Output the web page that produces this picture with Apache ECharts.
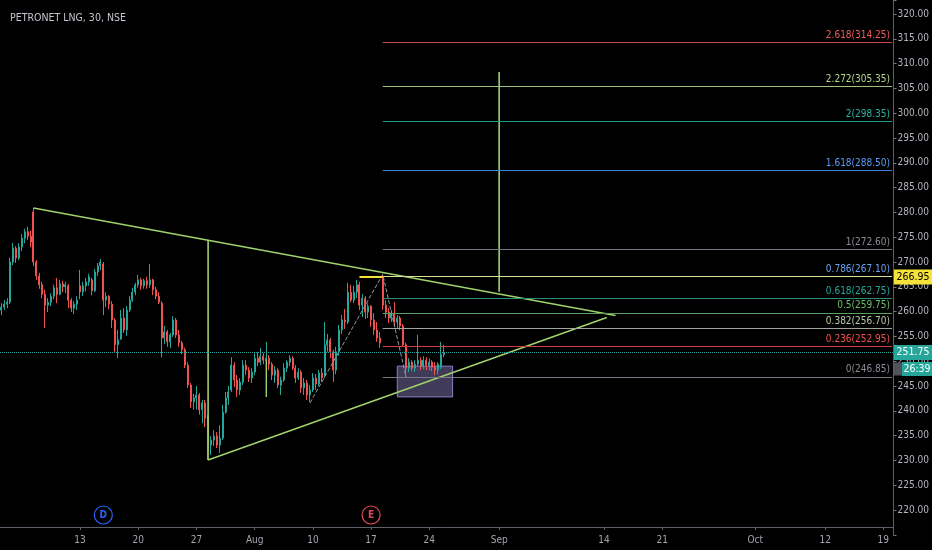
<!DOCTYPE html>
<html>
<head>
<meta charset="utf-8">
<script src="https://cdn.jsdelivr.net/npm/echarts@6/dist/echarts.min.js"></script>
<style>
  html, body { margin: 0; padding: 0; background: #000; }
  #main { width: 932px; height: 550px; }
</style>
</head>
<body>
<div id="main"></div>
<script>
var FONT = "'Liberation Sans Narrow','DejaVu Sans Condensed','Liberation Sans',sans-serif";

// 30-min bars, grouped 4 slots per trading day
var slotCount = 307;
var tickSlots = [27, 47, 67, 87, 107, 127, 147, 171, 207, 227, 259, 283, 303];
var tickLabels = ['13', '20', '27', 'Aug', '10', '17', '24', 'Sep', '14', '21', 'Oct', '12', '19'];

var opens = [
  260.3, 260.9, 261.5, 261.9, 270.0, 272.8, 270.8, 273.0, 274.8, 276.1,
  275.2, 280.1, 270.0, 267.2, 265.4, 263.5, 261.3, 261.9, 263.1, 264.8,
  263.5, 265.6, 265.0, 265.2, 262.3, 260.7, 261.5, 265.2, 264.0, 265.2,
  266.0, 266.4, 264.2, 268.0, 269.2, 269.6, 262.3, 263.1, 261.5, 258.3,
  253.3, 254.5, 258.7, 256.3, 260.3, 262.3, 263.9, 265.4, 266.4, 265.2,
  266.2, 265.4, 266.4, 264.4, 263.1, 261.7, 254.7, 255.9, 253.9, 255.3,
  258.3, 255.3, 253.7, 252.3, 249.2, 245.2, 241.8, 242.6, 243.2, 240.2,
  241.6, 238.5, 233.1, 234.1, 234.9, 233.1, 234.5, 239.7, 242.6, 244.2,
  249.2, 246.2, 244.2, 245.8, 249.2, 248.2, 246.6, 247.8, 250.6, 249.8,
  251.0, 250.2, 250.6, 249.4, 247.2, 248.2, 245.2, 246.2, 248.6, 249.8,
  250.6, 248.6, 246.6, 247.8, 244.6, 245.6, 243.2, 244.2, 246.6, 245.4,
  247.6, 247.2, 253.3, 254.3, 251.9, 248.2, 251.9, 256.3, 258.3, 257.9,
  263.9, 262.3, 263.9, 265.4, 261.3, 262.7, 259.9, 261.1, 258.3, 256.3,
  254.7, 266.6, 261.3, 259.9, 258.7, 259.7, 257.9, 258.7, 257.1, 253.3,
  248.6, 249.8, 248.6, 249.4, 250.2, 249.0, 250.2, 249.2, 249.8, 248.8,
  248.2, 248.8, 251.3
];
var closes = [
  260.9, 261.5, 261.9, 270.0, 272.8, 270.8, 273.0, 274.8, 276.1, 275.2,
  274.0, 270.0, 267.2, 265.4, 263.5, 261.3, 261.9, 263.1, 264.8, 263.5,
  265.6, 265.0, 265.4, 262.3, 260.7, 261.5, 262.3, 264.0, 265.2, 266.0,
  267.0, 264.2, 268.0, 269.2, 270.0, 262.3, 263.1, 261.5, 258.3, 253.3,
  254.3, 258.7, 256.3, 260.3, 262.3, 263.9, 265.4, 266.4, 265.2, 266.2,
  265.4, 266.4, 264.4, 263.1, 261.9, 254.7, 255.9, 253.9, 255.3, 258.3,
  255.3, 253.7, 252.3, 249.2, 245.2, 241.8, 242.6, 243.2, 240.2, 241.6,
  238.5, 233.1, 234.1, 234.9, 233.1, 234.5, 239.7, 242.6, 243.8, 249.2,
  246.2, 244.2, 245.8, 249.2, 248.2, 246.6, 247.8, 250.6, 249.8, 251.0,
  250.2, 250.6, 249.4, 247.2, 248.2, 245.2, 246.2, 248.6, 249.8, 250.6,
  248.6, 246.6, 247.8, 244.6, 245.6, 243.2, 244.2, 246.6, 245.4, 247.6,
  246.6, 253.3, 254.3, 251.9, 248.2, 251.9, 256.3, 258.3, 257.9, 263.9,
  262.3, 263.9, 265.4, 261.3, 262.7, 259.9, 261.1, 258.3, 256.3, 254.7,
  253.7, 261.3, 259.9, 258.7, 259.7, 257.9, 258.7, 257.1, 253.3, 248.6,
  249.8, 248.6, 249.4, 250.2, 249.0, 250.2, 249.2, 249.8, 248.8, 248.2,
  249.4, 251.3, 251.75
];
var lows = [
  259.3, 260.3, 260.7, 261.5, 269.4, 269.8, 270.4, 272.2, 273.8, 274.4,
  273.0, 269.2, 266.4, 264.6, 262.7, 256.7, 259.9, 261.1, 262.5, 261.7,
  263.3, 263.9, 263.7, 260.7, 259.9, 259.5, 260.3, 262.5, 263.1, 264.1,
  265.2, 263.3, 263.9, 267.2, 268.4, 259.3, 260.9, 260.5, 256.7, 251.9,
  250.6, 254.3, 255.7, 255.1, 259.9, 261.9, 263.3, 264.8, 264.4, 264.6,
  264.6, 264.8, 263.3, 262.5, 261.5, 250.8, 253.5, 252.9, 252.7, 254.9,
  254.7, 252.9, 251.4, 248.6, 244.6, 240.6, 240.2, 240.2, 239.2, 237.5,
  236.7, 230.1, 231.1, 232.9, 232.5, 231.5, 234.1, 239.4, 241.2, 243.8,
  244.8, 242.8, 243.2, 245.2, 247.2, 245.8, 245.6, 247.2, 249.0, 249.2,
  249.4, 249.8, 248.2, 246.2, 245.6, 244.6, 243.2, 245.8, 247.8, 249.0,
  248.2, 245.6, 246.2, 243.6, 243.2, 242.2, 241.8, 243.8, 244.2, 245.0,
  245.8, 246.6, 251.9, 250.6, 245.8, 247.4, 251.1, 255.5, 256.5, 257.5,
  261.9, 261.7, 262.7, 260.3, 258.9, 258.5, 258.7, 256.9, 255.3, 253.9,
  252.7, 260.3, 258.7, 257.7, 257.9, 256.9, 256.7, 256.3, 252.9, 246.8,
  247.8, 248.0, 247.8, 249.0, 248.2, 248.4, 248.2, 248.2, 248.0, 247.2,
  247.4, 248.4, 250.8
];
var highs = [
  261.7, 262.3, 262.7, 270.8, 273.8, 273.2, 273.8, 275.6, 276.7, 277.1,
  276.3, 280.9, 270.4, 267.8, 266.0, 264.4, 262.7, 263.7, 265.4, 266.8,
  266.4, 266.2, 266.0, 265.6, 262.7, 262.1, 263.1, 268.4, 266.0, 266.8,
  267.6, 266.8, 268.6, 269.8, 270.6, 270.0, 263.9, 263.3, 262.1, 258.7,
  256.3, 260.3, 260.7, 261.1, 263.1, 264.8, 265.8, 267.4, 266.8, 266.6,
  267.0, 269.6, 266.6, 265.0, 263.9, 262.1, 257.1, 256.3, 255.7, 259.1,
  258.7, 256.3, 254.1, 252.7, 249.8, 245.6, 243.4, 245.0, 243.6, 242.2,
  242.2, 239.2, 234.9, 236.1, 235.7, 237.1, 241.2, 243.8, 245.0, 250.8,
  249.8, 247.2, 246.6, 250.2, 250.2, 248.8, 248.6, 251.6, 251.8, 252.7,
  251.6, 253.9, 251.2, 249.8, 249.0, 248.6, 246.9, 249.6, 250.2, 251.2,
  251.0, 249.2, 248.6, 248.2, 246.6, 246.2, 245.2, 247.6, 247.4, 248.2,
  248.6, 257.9, 255.5, 254.7, 252.3, 252.9, 257.3, 259.3, 260.5, 265.8,
  265.4, 265.2, 266.4, 266.0, 263.5, 263.1, 261.7, 261.3, 259.7, 257.9,
  255.9, 267.5, 262.3, 260.7, 260.3, 261.9, 259.3, 259.1, 257.5, 253.7,
  250.6, 250.2, 250.2, 255.3, 250.8, 251.0, 250.8, 250.6, 250.2, 249.8,
  249.8, 253.9, 253.3
];

var lastPrice = 251.75;
var hLinePrice = 266.95;
var countdown = '26:39';

// fib extension levels
var fibRatios = ['2.618', '2.272', '2', '1.618', '1', '0.786', '0.618', '0.5', '0.382', '0.236', '0'];
var fibPrices = [314.25, 305.35, 298.35, 288.50, 272.60, 267.10, 262.75, 259.75, 256.70, 252.95, 246.85];
var fibStart = 131;
var fibPoints = [[106, 241.6], [131, 267.5], [139, 246.85]];

// drawings: [slot, price]
var upperTrend = [[11, 280.9], [211, 259.2]];
var lowerTrend = [[71, 230.1], [208, 258.8]];
var legOne = [[71, 230.1], [71, 274.4]];
var legTwo = [[171, 264.0], [171, 308.3]];
var smallLeg = [[91, 250.3], [91, 242.8]];
var hLineStart = 123;
var boxZone = [[136, 249.0], [155, 242.8]];
var events = [{ slot: 35, text: 'D' }, { slot: 127, text: 'E' }];

// styles
var fibLineColors = ['#c84b4b', '#9cc47e', '#1e9c8c', '#3d7fdc', '#787b86', '#d8e39a', '#2e8b7a', '#5aa05a', '#9ea69e', '#d04040', '#787b86'];
var fibTextColors = ['#f05a5a', '#b5d68e', '#26b5a0', '#5a9cf8', '#8a8d96', '#6aa3ef', '#26a69a', '#6abf69', '#b7c9a8', '#ef5350', '#8a8d96'];
var green = '#a0d26c';

var myChart = echarts.init(document.getElementById('main'));

var slots = [];
for (var i = 0; i < slotCount; i++) slots.push(String(i));

var candles = opens.map(function (o, i) { return [o, closes[i], lows[i], highs[i]]; });

function tickIdx(index) { return tickSlots.indexOf(index) >= 0; }

var markLines = [{ yAxis: lastPrice, lineStyle: { color: '#26a69a', type: 'dotted', width: 1 }, label: { show: false } }];
fibPrices.forEach(function (p, k) {
  markLines.push([
    {
      coord: [fibStart, p],
      lineStyle: { color: fibLineColors[k], width: 1, type: 'solid' },
      label: {
        show: true, position: 'insideEndTop', distance: 2,
        formatter: fibRatios[k] + '(' + p.toFixed(2) + ')',
        color: fibTextColors[k], fontSize: 10, fontFamily: FONT
      }
    },
    { coord: [slotCount - 1, p] }
  ]);
});

function seg(points, color, width, type) {
  return {
    type: 'line', data: points, symbol: 'none', silent: true, z: 4,
    lineStyle: { color: color, width: width, type: type || 'solid' }
  };
}

var option = {
  backgroundColor: '#000',
  animation: false,
  title: {
    text: 'PETRONET LNG, 30, NSE', left: 5, top: 8,
    textStyle: { color: '#c3c6ce', fontSize: 10.5, fontWeight: 'normal', fontFamily: FONT }
  },
  grid: { left: -2, right: 38, top: 0, bottom: 15.2 },
  xAxis: {
    type: 'category', data: slots, boundaryGap: true, offset: -7.8,
    axisLine: { lineStyle: { color: '#5d606b' } },
    axisTick: { show: true, alignWithLabel: true, interval: tickIdx, length: 3, lineStyle: { color: '#5d606b' } },
    axisLabel: {
      interval: tickIdx, color: '#a3a6af', fontSize: 10, fontFamily: FONT, margin: 8,
      formatter: function (v, idx) { var k = tickSlots.indexOf(idx); return k >= 0 ? tickLabels[k] : ''; }
    },
    splitLine: { show: false }
  },
  yAxis: {
    type: 'value', position: 'right', min: 215, max: 322.82, interval: 5,
    axisLine: { show: true, lineStyle: { color: '#5d606b' } },
    axisTick: { show: true, length: 3, lineStyle: { color: '#787b86' } },
    axisLabel: {
      color: '#b2b5be', fontSize: 10, fontFamily: FONT, margin: 4,
      formatter: function (v) { return (v <= 215 || v > 321) ? '' : v.toFixed(2); }
    },
    splitLine: { show: false }
  },
  series: [
    {
      type: 'candlestick', data: candles, barWidth: 1.5, z: 3,
      itemStyle: { color: '#26a69a', color0: '#ef5350', borderColor: '#26a69a', borderColor0: '#ef5350', borderWidth: 1 },
      markLine: { silent: true, symbol: ['none', 'none'], data: markLines },
      markArea: {
        silent: true,
        itemStyle: { color: 'rgba(150,140,210,0.42)', borderColor: '#8e7cc3', borderWidth: 1 },
        data: [[{ coord: boxZone[0] }, { coord: boxZone[1] }]]
      }
    },
    seg(upperTrend, green, 1.6),
    seg(lowerTrend, green, 1.6),
    seg(legOne, green, 1.6),
    seg(legTwo, green, 1.6),
    seg(smallLeg, green, 1.4),
    seg(fibPoints, '#9598a1', 1, 'dashed'),
    seg([[hLineStart, hLinePrice], [fibStart, hLinePrice]], '#f5e23a', 2)
  ]
};

myChart.setOption(option);

// price tags on the axis and event bubbles
function yPix(v) { return myChart.convertToPixel({ yAxisIndex: 0 }, v); }
function xPix(i) { return myChart.convertToPixel({ xAxisIndex: 0 }, i); }

var g = [];
function tag(x, y, w, h, bg, fg, text) {
  g.push({ type: 'rect', shape: { x: x, y: y - h / 2, width: w, height: h }, style: { fill: bg }, z: 100 });
  g.push({
    type: 'text', x: x + w / 2, y: y, z: 101,
    style: { text: text, fill: fg, font: '10.5px ' + FONT, align: 'center', verticalAlign: 'middle' }
  });
}
tag(894, yPix(hLinePrice), 38, 15, '#f5e23a', '#000', hLinePrice.toFixed(2));
tag(894, yPix(lastPrice), 38, 15, '#26a69a', '#fff', lastPrice.toFixed(2));
g.push({ type: 'rect', shape: { x: 894, y: yPix(lastPrice) + 10, width: 9, height: 13 }, style: { fill: '#50535e' }, z: 99 });
tag(902, yPix(lastPrice) + 16.5, 30, 14, '#26a69a', '#fff', countdown);

var evColors = { D: '#2962ff', E: '#e0455a' };
events.forEach(function (ev) {
  var cx = xPix(ev.slot);
  g.push({ type: 'circle', shape: { cx: cx, cy: 515, r: 9 }, style: { fill: '#000', stroke: evColors[ev.text], lineWidth: 1.2 }, z: 100 });
  g.push({
    type: 'text', x: cx, y: 515, z: 101,
    style: { text: ev.text, fill: evColors[ev.text], font: 'bold 10px ' + FONT, align: 'center', verticalAlign: 'middle' }
  });
});

myChart.setOption({ graphic: g });
</script>
</body>
</html>
